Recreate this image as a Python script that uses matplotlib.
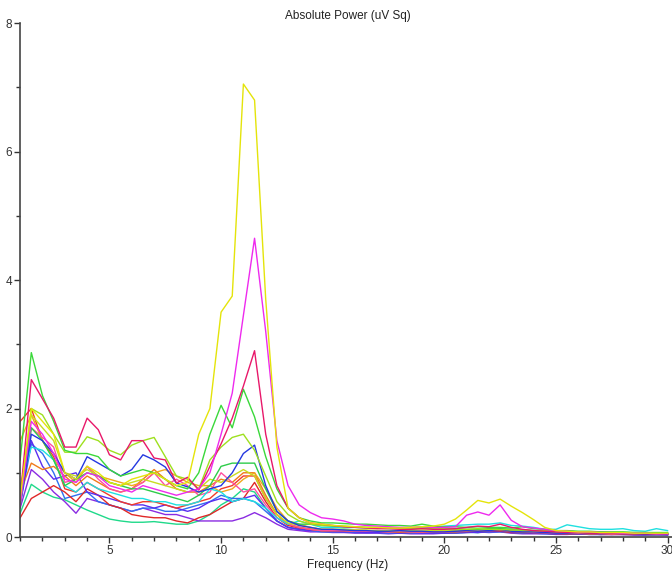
import numpy as np
import matplotlib
matplotlib.use("Agg")
import matplotlib.pyplot as plt
from matplotlib.ticker import MultipleLocator

plt.rcParams['font.family'] = ['Liberation Sans', 'DejaVu Sans']

# Frequency bins (Hz), 0.5 Hz resolution
freq = np.arange(1.0, 30.01, 0.5)

# Absolute power (uV^2) per channel: 1-9.5 Hz | 10-14.5 Hz | 15-30 Hz
yellow = [0.6, 2.0, 1.8, 1.6, 1.0, 0.9, 1.1, 1.0, 0.85, 0.8, 0.9, 0.95, 1.0, 0.9, 0.8, 0.85, 1.6, 2.0,
          3.5, 3.75, 7.05, 6.8, 3.7, 1.4, 0.45, 0.3, 0.22, 0.2,
          0.18, 0.17, 0.16, 0.15, 0.15, 0.14, 0.14, 0.15, 0.16, 0.17, 0.2, 0.28, 0.42, 0.57, 0.53, 0.59, 0.48, 0.38, 0.27, 0.15,
          0.1, 0.09, 0.08, 0.08, 0.07, 0.07, 0.07, 0.06, 0.06, 0.06, 0.06]
magenta = [0.5, 1.8, 1.6, 1.3, 0.9, 0.85, 1.0, 0.95, 0.8, 0.75, 0.7, 0.8, 0.75, 0.7, 0.65, 0.7, 0.75, 1.0,
           1.6, 2.24, 3.45, 4.65, 3.2, 1.5, 0.8, 0.5, 0.38, 0.3,
           0.28, 0.25, 0.2, 0.18, 0.17, 0.16, 0.15, 0.15, 0.16, 0.15, 0.15, 0.16, 0.34, 0.39, 0.34, 0.5, 0.26, 0.16, 0.14, 0.12,
           0.1, 0.09, 0.08, 0.08, 0.07, 0.07, 0.06, 0.06, 0.06, 0.05, 0.05]
crimson = [0.6, 2.45, 2.15, 1.85, 1.4, 1.4, 1.85, 1.67, 1.28, 1.2, 1.5, 1.5, 1.23, 1.2, 0.84, 0.93, 0.73, 1.1,
           1.45, 1.85, 2.35, 2.9, 1.6, 0.8, 0.45, 0.3, 0.22, 0.2,
           0.18, 0.16, 0.15, 0.14, 0.13, 0.13, 0.12, 0.12, 0.13, 0.12, 0.12, 0.13, 0.15, 0.17, 0.16, 0.2, 0.15, 0.12, 0.1, 0.09,
           0.08, 0.07, 0.07, 0.06, 0.06, 0.06, 0.05, 0.05, 0.05, 0.05, 0.05]
green = [1.2, 2.87, 2.2, 1.8, 1.35, 1.3, 1.3, 1.25, 1.05, 0.95, 1.0, 1.05, 1.0, 0.9, 0.8, 0.75, 1.0, 1.6,
         2.05, 1.7, 2.3, 1.87, 1.25, 0.75, 0.45, 0.3, 0.25, 0.22,
         0.22, 0.21, 0.2, 0.2, 0.19, 0.18, 0.18, 0.17, 0.2, 0.17, 0.16, 0.16, 0.15, 0.16, 0.15, 0.15, 0.14, 0.16, 0.13, 0.12,
         0.1, 0.1, 0.09, 0.09, 0.08, 0.08, 0.08, 0.07, 0.07, 0.07, 0.07]
lime = [0.5, 2.0, 1.9, 1.6, 1.32, 1.32, 1.56, 1.5, 1.35, 1.28, 1.43, 1.5, 1.55, 1.25, 0.95, 0.9, 0.75, 1.2,
        1.4, 1.55, 1.6, 1.35, 0.95, 0.55, 0.35, 0.25, 0.2, 0.18,
        0.18, 0.17, 0.16, 0.15, 0.15, 0.14, 0.14, 0.13, 0.14, 0.13, 0.13, 0.12, 0.12, 0.13, 0.12, 0.12, 0.11, 0.11, 0.1, 0.1,
        0.09, 0.08, 0.08, 0.08, 0.07, 0.07, 0.07, 0.06, 0.06, 0.06, 0.06]
blue = [0.5, 1.6, 1.5, 1.3, 1.0, 0.9, 1.25, 1.15, 1.05, 0.95, 1.05, 1.28, 1.2, 1.09, 0.84, 0.78, 0.7, 0.75,
        0.8, 1.0, 1.3, 1.43, 0.8, 0.4, 0.25, 0.18, 0.15, 0.12,
        0.12, 0.11, 0.1, 0.1, 0.09, 0.09, 0.1, 0.09, 0.09, 0.08, 0.08, 0.09, 0.1, 0.09, 0.1, 0.12, 0.09, 0.08, 0.08, 0.07,
        0.06, 0.06, 0.07, 0.06, 0.05, 0.06, 0.05, 0.05, 0.04, 0.05, 0.04]
violet = [0.45, 1.05, 0.9, 0.7, 0.55, 0.37, 0.6, 0.55, 0.5, 0.45, 0.4, 0.45, 0.4, 0.35, 0.35, 0.3, 0.25, 0.25,
          0.25, 0.25, 0.3, 0.38, 0.3, 0.2, 0.12, 0.1, 0.08, 0.08,
          0.07, 0.07, 0.06, 0.06, 0.06, 0.05, 0.06, 0.05, 0.05, 0.05, 0.06, 0.06, 0.07, 0.08, 0.07, 0.08, 0.06, 0.05, 0.05, 0.05,
          0.04, 0.04, 0.05, 0.04, 0.04, 0.04, 0.04, 0.03, 0.03, 0.04, 0.03]
blueviolet = [0.6, 1.5, 1.1, 0.9, 0.95, 1.0, 0.7, 0.65, 0.6, 0.55, 0.5, 0.5, 0.45, 0.5, 0.45, 0.4, 0.45, 0.55,
              0.6, 0.55, 0.6, 0.65, 0.45, 0.25, 0.15, 0.12, 0.1, 0.1,
              0.09, 0.08, 0.08, 0.07, 0.07, 0.07, 0.06, 0.07, 0.06, 0.06, 0.06, 0.07, 0.08, 0.07, 0.09, 0.1, 0.08, 0.07, 0.06, 0.06,
              0.05, 0.06, 0.05, 0.05, 0.05, 0.04, 0.05, 0.04, 0.04, 0.04, 0.04]
cyan = [0.8, 1.4, 1.35, 1.2, 0.8, 0.7, 0.85, 0.75, 0.7, 0.65, 0.6, 0.6, 0.55, 0.55, 0.5, 0.5, 0.55, 0.75,
        0.7, 0.55, 0.6, 0.55, 0.45, 0.3, 0.2, 0.25, 0.2, 0.15,
        0.15, 0.14, 0.15, 0.14, 0.14, 0.13, 0.13, 0.12, 0.14, 0.15, 0.17, 0.18, 0.19, 0.2, 0.2, 0.22, 0.18, 0.17, 0.15, 0.12,
        0.12, 0.19, 0.16, 0.13, 0.12, 0.12, 0.13, 0.1, 0.09, 0.13, 0.1]
teal = [0.37, 0.82, 0.7, 0.62, 0.58, 0.5, 0.42, 0.35, 0.28, 0.25, 0.23, 0.23, 0.24, 0.22, 0.2, 0.2, 0.25, 0.35,
        0.5, 0.6, 0.75, 0.7, 0.45, 0.25, 0.15, 0.12, 0.1, 0.1,
        0.09, 0.09, 0.08, 0.08, 0.08, 0.07, 0.07, 0.07, 0.08, 0.07, 0.07, 0.07, 0.08, 0.07, 0.08, 0.09, 0.07, 0.06, 0.06, 0.06,
        0.05, 0.05, 0.05, 0.05, 0.04, 0.05, 0.04, 0.04, 0.04, 0.04, 0.04]
orange = [1.5, 1.9, 1.5, 1.2, 1.0, 0.85, 1.1, 0.95, 0.9, 0.85, 0.8, 0.85, 1.0, 1.05, 0.95, 0.85, 0.8, 0.8,
          0.7, 0.75, 0.9, 1.0, 0.75, 0.45, 0.25, 0.2, 0.15, 0.12,
          0.12, 0.11, 0.11, 0.1, 0.1, 0.1, 0.09, 0.1, 0.09, 0.09, 0.09, 0.1, 0.11, 0.1, 0.12, 0.13, 0.1, 0.09, 0.08, 0.08,
          0.07, 0.07, 0.06, 0.06, 0.06, 0.06, 0.05, 0.05, 0.05, 0.05, 0.05]
darkorange = [0.7, 1.15, 1.05, 1.1, 0.95, 0.8, 0.95, 0.85, 0.75, 0.7, 0.75, 0.9, 1.05, 0.9, 0.75, 0.7, 0.7, 0.8,
              0.9, 0.85, 1.0, 1.0, 0.65, 0.35, 0.2, 0.15, 0.12, 0.1,
              0.1, 0.1, 0.09, 0.09, 0.09, 0.08, 0.08, 0.08, 0.08, 0.08, 0.08, 0.08, 0.09, 0.09, 0.1, 0.11, 0.09, 0.08, 0.07, 0.07,
              0.06, 0.06, 0.06, 0.05, 0.05, 0.05, 0.05, 0.05, 0.04, 0.04, 0.04]
red = [0.3, 0.6, 0.7, 0.8, 0.7, 0.55, 0.75, 0.65, 0.5, 0.45, 0.35, 0.32, 0.3, 0.3, 0.25, 0.22, 0.3, 0.35,
       0.45, 0.55, 0.6, 0.85, 0.55, 0.3, 0.18, 0.14, 0.12, 0.1,
       0.1, 0.09, 0.09, 0.08, 0.08, 0.08, 0.07, 0.07, 0.08, 0.07, 0.07, 0.07, 0.08, 0.08, 0.09, 0.09, 0.07, 0.07, 0.06, 0.06,
       0.05, 0.05, 0.05, 0.05, 0.04, 0.04, 0.04, 0.04, 0.04, 0.04, 0.04]
red2 = [1.8, 2.0, 1.5, 1.25, 0.75, 0.7, 0.85, 0.75, 0.65, 0.55, 0.5, 0.55, 0.55, 0.5, 0.45, 0.5, 0.55, 0.6,
        0.75, 0.8, 0.95, 0.95, 0.6, 0.35, 0.2, 0.15, 0.12, 0.1,
        0.1, 0.1, 0.1, 0.09, 0.09, 0.09, 0.08, 0.09, 0.08, 0.08, 0.08, 0.09, 0.1, 0.1, 0.11, 0.12, 0.09, 0.08, 0.08, 0.07,
        0.06, 0.06, 0.06, 0.06, 0.05, 0.05, 0.05, 0.05, 0.05, 0.05, 0.05]
hotpink = [0.6, 1.7, 1.55, 1.4, 0.85, 0.9, 1.1, 0.9, 0.75, 0.7, 0.75, 0.85, 1.0, 0.8, 0.9, 0.8, 0.65, 0.7,
           1.0, 0.85, 0.7, 0.75, 0.5, 0.3, 0.2, 0.15, 0.12, 0.1,
           0.1, 0.1, 0.09, 0.09, 0.09, 0.08, 0.09, 0.08, 0.08, 0.08, 0.08, 0.09, 0.1, 0.1, 0.12, 0.13, 0.1, 0.09, 0.08, 0.07,
           0.06, 0.06, 0.06, 0.06, 0.05, 0.05, 0.05, 0.05, 0.05, 0.05, 0.05]
green2 = [0.5, 1.7, 1.5, 1.2, 0.8, 0.9, 1.0, 0.95, 0.85, 0.8, 0.75, 0.75, 0.7, 0.65, 0.6, 0.55, 0.65, 0.8,
          1.1, 1.15, 1.15, 1.15, 0.75, 0.4, 0.25, 0.2, 0.2, 0.18,
          0.17, 0.16, 0.16, 0.15, 0.15, 0.14, 0.14, 0.14, 0.15, 0.14, 0.13, 0.13, 0.12, 0.12, 0.13, 0.13, 0.12, 0.11, 0.1, 0.1,
          0.09, 0.09, 0.08, 0.08, 0.08, 0.07, 0.07, 0.07, 0.07, 0.06, 0.06]
olive = [0.7, 1.9, 1.7, 1.5, 1.0, 0.95, 1.05, 0.95, 0.85, 0.8, 0.85, 0.9, 0.85, 0.8, 0.75, 0.7, 0.75, 0.9,
         0.85, 0.95, 1.05, 0.95, 0.6, 0.35, 0.22, 0.18, 0.15, 0.12,
         0.12, 0.12, 0.11, 0.11, 0.1, 0.1, 0.1, 0.1, 0.11, 0.1, 0.1, 0.1, 0.11, 0.11, 0.12, 0.13, 0.1, 0.09, 0.09, 0.08,
         0.07, 0.07, 0.07, 0.06, 0.06, 0.06, 0.06, 0.05, 0.05, 0.05, 0.05]
midblue = [0.5, 1.45, 1.3, 1.0, 0.6, 0.65, 0.7, 0.55, 0.5, 0.45, 0.4, 0.45, 0.45, 0.4, 0.4, 0.45, 0.5, 0.55,
           0.65, 0.6, 0.6, 0.55, 0.4, 0.25, 0.15, 0.12, 0.1, 0.08,
           0.08, 0.08, 0.07, 0.07, 0.07, 0.06, 0.06, 0.06, 0.07, 0.06, 0.06, 0.06, 0.07, 0.07, 0.08, 0.08, 0.07, 0.06, 0.06, 0.05,
           0.05, 0.05, 0.05, 0.04, 0.04, 0.04, 0.04, 0.04, 0.03, 0.03, 0.03]

channels = [
    (teal, '#1fd98a'), (violet, '#8a2be2'), (midblue, '#2f6ff0'), (red, '#e02828'),
    (blueviolet, '#5a2df0'), (red2, '#f03a2a'), (darkorange, '#f07a1a'), (orange, '#f0a81e'),
    (hotpink, '#ff4fa0'), (cyan, '#1fe0e0'), (olive, '#c8dc20'), (green2, '#2ecc4a'),
    (blue, '#2438e0'), (lime, '#9ee01e'), (green, '#3ad83a'), (crimson, '#e8186a'),
    (magenta, '#ee2aee'), (yellow, '#e4e40a'),
]

fig = plt.figure(figsize=(6.72, 5.71), dpi=100)
ax = fig.add_axes([0.030, 0.0595, 0.975, 0.9002])

for vals, col in channels:
    assert len(vals) == len(freq), (col, len(vals))
    ax.plot(freq, vals, color=col, lw=1.0)

ax.set_xlim(1.0, 30.35)
ax.set_ylim(0, 8)
ax.xaxis.set_major_locator(MultipleLocator(5))
ax.xaxis.set_minor_locator(MultipleLocator(1))
ax.yaxis.set_major_locator(MultipleLocator(2))
ax.yaxis.set_minor_locator(MultipleLocator(1))
ax.tick_params(axis='both', which='major', length=4, width=1, labelsize=8.5, colors='#333333', pad=2)
ax.tick_params(axis='both', which='minor', length=3, width=1, colors='#333333')
for s in ['top', 'right']:
    ax.spines[s].set_visible(False)
for s in ['left', 'bottom']:
    ax.spines[s].set_color('#444444')
    ax.spines[s].set_linewidth(1.2)

ax.set_title('Absolute Power (uV Sq)', fontsize=8.5, color='#222222', pad=3)
ax.set_xlabel('Frequency (Hz)', fontsize=8.5, color='#222222', labelpad=1)

fig.savefig('out.png', dpi=100)
